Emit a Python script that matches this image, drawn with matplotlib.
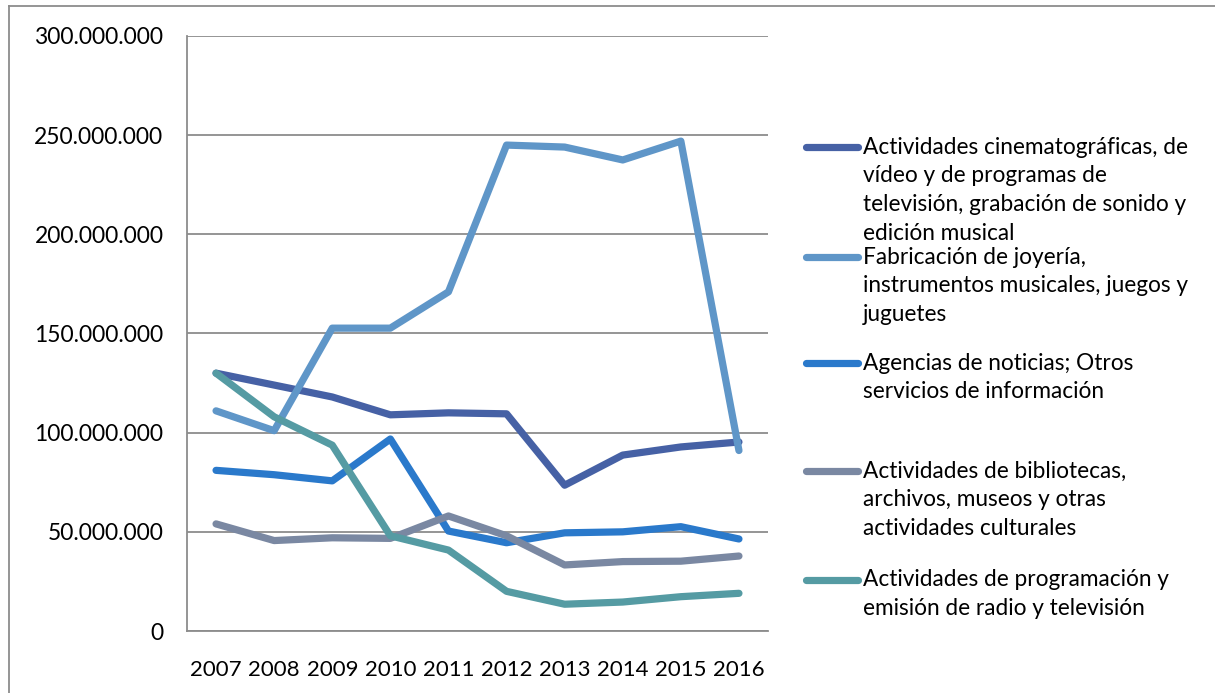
import matplotlib
matplotlib.use("Agg")
import matplotlib.pyplot as plt
from matplotlib.lines import Line2D
from matplotlib.ticker import FuncFormatter

years = ["2007", "2008", "2009", "2010", "2011", "2012", "2013", "2014", "2015", "2016"]

cine = [130, 124, 118, 109, 110, 109.5, 73.5, 88.7, 92.8, 95.3]
joyeria = [111, 101, 152.7, 152.7, 171, 245, 244, 237.5, 247, 91]
agencias = [81, 78.8, 75.7, 96.8, 50.4, 44.5, 49.5, 50, 52.6, 46.4]
bibliotecas = [54, 45.6, 47, 46.7, 58, 48, 33.3, 35, 35.2, 37.8]
radio_tv = [130, 108, 93.7, 48, 40.8, 20, 13.5, 14.6, 17.3, 19]

labels = [
    "Actividades cinematográficas, de\nvídeo y de programas de\ntelevisión, grabación de sonido y\nedición musical",
    "Fabricación de joyería,\ninstrumentos musicales, juegos y\njuguetes",
    "Agencias de noticias; Otros\nservicios de información",
    "Actividades de bibliotecas,\narchivos, museos y otras\nactividades culturales",
    "Actividades de programación y\nemisión de radio y televisión",
]
series = [cine, joyeria, agencias, bibliotecas, radio_tv]
colors = ["#4661A5", "#5F96C8", "#2A79CB", "#7A88A2", "#559BA3"]

y_ticks = [0, 50, 100, 150, 200, 250, 300]

W, H = 1215, 693
DPI = 100
plt.rcParams["font.family"] = ["Lato", "DejaVu Sans"]
fig = plt.figure(figsize=(W / DPI, H / DPI), dpi=DPI)

ax = fig.add_axes([187 / W, 1 - 631 / H, (768 - 187) / W, (631 - 36) / H])
x = list(range(len(years)))
for vals, c in zip(series, colors):
    ax.plot(x, [v * 1e6 for v in vals], color=c, lw=5.2, solid_capstyle="round",
            solid_joinstyle="round", zorder=3)

ax.set_xlim(-0.5, len(years) - 0.5)
ax.set_ylim(0, 300e6)
ax.set_yticks([t * 1e6 for t in y_ticks])
ax.yaxis.set_major_formatter(FuncFormatter(lambda v, p: "0" if v == 0 else f"{int(round(v)):,}".replace(",", ".")))
ax.set_xticks(x)
ax.set_xticklabels(years)
ax.tick_params(axis="y", length=0, pad=17, labelsize=16.5, colors="black")
ax.tick_params(axis="x", length=0, pad=21, labelsize=16, colors="black")
ax.grid(axis="y", color="#8C8C8C", lw=1.3, zorder=1)
for s in ["top", "right"]:
    ax.spines[s].set_visible(False)
for s in ["left", "bottom"]:
    ax.spines[s].set_color("#8C8C8C")
    ax.spines[s].set_linewidth(1.3)

# legend (manual)
marker_y = [147, 257, 363, 471, 580]
pitch = 28.8
for lab, c, my in zip(labels, colors, marker_y):
    fy = 1 - my / H
    fig.add_artist(Line2D([806 / W, 858 / W], [fy, fy], color=c, lw=5.2,
                          solid_capstyle="round", transform=fig.transFigure))
    for i, line in enumerate(lab.split("\n")):
        fig.text(863 / W, 1 - (my + i * pitch) / H, line, fontsize=16.3,
                 va="center", ha="left", color="black")

# outer border (left and top)
fig.add_artist(Line2D([8.5 / W, 8.5 / W], [0, 1 - 6 / H], color="#8C8C8C", lw=1.3,
                      transform=fig.transFigure))
fig.add_artist(Line2D([8.5 / W, 1], [1 - 6 / H, 1 - 6 / H], color="#8C8C8C", lw=1.3,
                      transform=fig.transFigure))

fig.savefig("out.png", dpi=DPI)
